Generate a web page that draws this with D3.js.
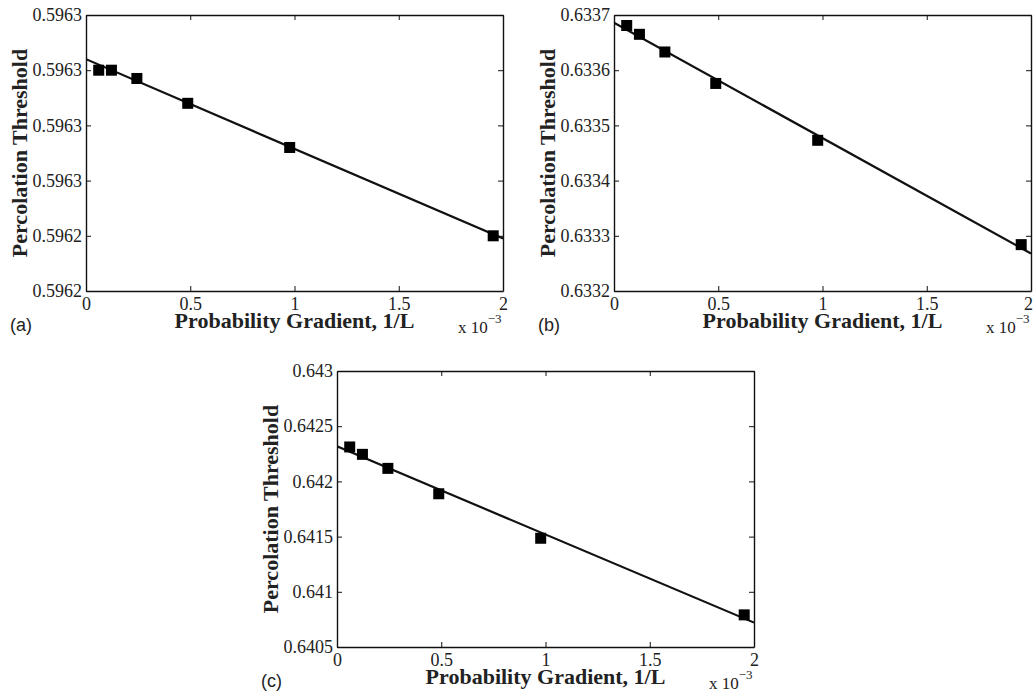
<!DOCTYPE html>
<html>
<head>
<meta charset="utf-8">
<script src="https://cdn.jsdelivr.net/npm/d3@7"></script>
<style>
  body { margin: 0; background: #fff; }
  svg { display: block; }
</style>
</head>
<body>
<svg id="chart" width="1034" height="693"></svg>
<script>
// x values: probability gradient 1/L for L = 16384 ... 512
const gradient = [0.000061, 0.000122, 0.000244, 0.000488, 0.000977, 0.001953];

const thresholdA = [0.596300, 0.596300, 0.596297, 0.596288, 0.596272, 0.596240];
const thresholdB = [0.633681, 0.633665, 0.633633, 0.633576, 0.633473, 0.633284];
const thresholdC = [0.642312, 0.642245, 0.642118, 0.641888, 0.641485, 0.640791];

// linear fit, value at 1/L = 0 and at 1/L = 0.002
const fitX = [0, 0.002];
const fitA = [0.596304, 0.596239];
const fitB = [0.633686, 0.633268];
const fitC = [0.642318, 0.640721];

const xTicks = [0, 0.0005, 0.001, 0.0015, 0.002];
const yTicksA = [0.59622, 0.59624, 0.59626, 0.59628, 0.59630, 0.59632];
const yTicksB = [0.6332, 0.6333, 0.6334, 0.6335, 0.6336, 0.6337];
const yTicksC = [0.6405, 0.6410, 0.6415, 0.6420, 0.6425, 0.6430];

const panelLabels = ["(a)", "(b)", "(c)"];
const xTitle = "Probability Gradient, 1/L";
const yTitle = "Percolation Threshold";

const svg = d3.select("#chart");
const W = 417, H = 276;

const panels = [
  {label: panelLabels[0], values: thresholdA, fit: fitA, yTicks: yTicksA, left: 86, top: 15},
  {label: panelLabels[1], values: thresholdB, fit: fitB, yTicks: yTicksB, left: 614, top: 15},
  {label: panelLabels[2], values: thresholdC, fit: fitC, yTicks: yTicksC, left: 337, top: 371}
];

const serif = "'Liberation Serif', 'Times New Roman', serif";
const ink = "#111";

function styleAxis(g) {
  g.attr("font-family", serif).attr("font-size", 18);
  g.select(".domain").attr("stroke", ink).attr("stroke-width", 1.4);
  g.selectAll(".tick line").attr("stroke", ink).attr("stroke-width", 1);
  g.selectAll(".tick text").attr("fill", "#222");
}

panels.forEach((p, pi) => {
  const bottom = p.top + H, right = p.left + W;
  const x = d3.scaleLinear().domain([0, 0.002]).range([p.left, right]);
  const y = d3.scaleLinear().domain(d3.extent(p.yTicks)).range([bottom, p.top]);
  const g = svg.append("g");

  g.append("clipPath").attr("id", "clip" + pi)
    .append("rect").attr("x", p.left).attr("y", p.top).attr("width", W).attr("height", H);

  // fit line
  g.append("path")
    .datum(fitX.map((d, i) => [d, p.fit[i]]))
    .attr("clip-path", `url(#clip${pi})`)
    .attr("d", d3.line().x(d => x(d[0])).y(d => y(d[1])))
    .attr("fill", "none")
    .attr("stroke", ink)
    .attr("stroke-width", 2.2);

  // axes (ticks point inwards, box on all four sides)
  const xb = g.append("g").attr("transform", `translate(0,${bottom})`)
    .call(d3.axisBottom(x).tickValues(xTicks).tickSize(-5).tickSizeOuter(0).tickPadding(6)
      .tickFormat(d => String(+(d * 1000).toFixed(1))))
    .call(styleAxis);
  // keep the last label inside the page on the right-hand panel
  if (right > 1020) xb.selectAll(".tick:last-of-type text").attr("dx", -3);

  g.append("g").attr("transform", `translate(0,${p.top})`)
    .call(d3.axisTop(x).tickValues(xTicks).tickSize(-5).tickSizeOuter(0).tickFormat(""))
    .call(styleAxis);
  g.append("g").attr("transform", `translate(${p.left},0)`)
    .call(d3.axisLeft(y).tickValues(p.yTicks).tickSize(-5).tickSizeOuter(0).tickPadding(4)
      .tickFormat(d => String(+d.toFixed(4))))
    .call(styleAxis);
  g.append("g").attr("transform", `translate(${right},0)`)
    .call(d3.axisRight(y).tickValues(p.yTicks).tickSize(-5).tickSizeOuter(0).tickFormat(""))
    .call(styleAxis);

  // markers
  g.selectAll("rect.pt")
    .data(p.values)
    .join("rect")
    .attr("class", "pt")
    .attr("x", (d, i) => x(gradient[i]) - 5.5)
    .attr("y", d => y(d) - 5.5)
    .attr("width", 11)
    .attr("height", 11)
    .attr("fill", "#000");

  // titles
  g.append("text")
    .attr("x", (p.left + right) / 2).attr("y", bottom + 37)
    .attr("text-anchor", "middle")
    .attr("font-family", serif).attr("font-weight", "bold").attr("font-size", 22)
    .attr("fill", "#222")
    .text(xTitle);

  g.append("text")
    .attr("transform", `translate(${p.left - 59},${(p.top + bottom) / 2}) rotate(-90)`)
    .attr("text-anchor", "middle")
    .attr("font-family", serif).attr("font-weight", "bold").attr("font-size", 22)
    .attr("fill", "#222")
    .text(yTitle);

  // exponent
  const ex = g.append("text")
    .attr("x", right - 45).attr("y", bottom + 42)
    .attr("font-family", serif).attr("font-size", 17).attr("fill", "#222");
  ex.append("tspan").text("x 10");
  ex.append("tspan").attr("dy", -10).attr("font-size", 13).text("\u22123");

  g.append("text")
    .attr("x", p.left - 76).attr("y", bottom + 40)
    .attr("font-family", "'Liberation Sans', Arial, sans-serif").attr("font-size", 18)
    .attr("fill", "#222")
    .text(p.label);
});
</script>
</body>
</html>
